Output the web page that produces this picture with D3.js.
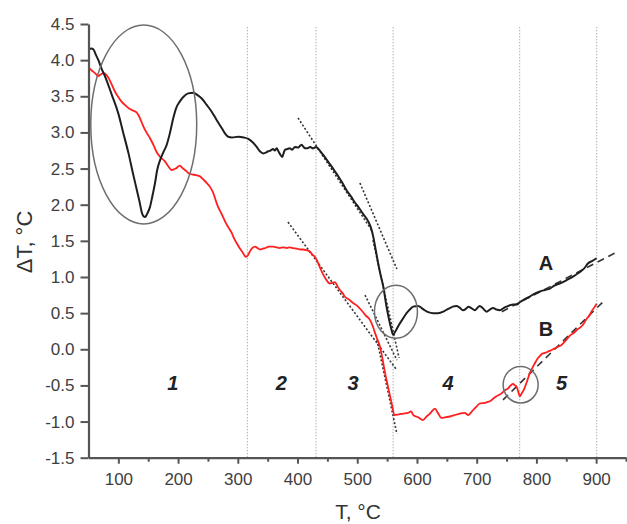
<!DOCTYPE html>
<html>
<head>
<meta charset="utf-8">
<script src="https://cdn.jsdelivr.net/npm/d3@7"></script>
<style>
  html, body { margin: 0; padding: 0; background: #fff; }
  svg { display: block; }
</style>
</head>
<body>
<svg id="chart" width="627" height="524"></svg>
<script>
// ---- data ----
const curveA_T = [50,55,58,62,66.5,72,78,89,100,108,117,124,131,136,139,142,144.7,148,153,157,161.4,165,170,175,181,186,192,197,203,210,217,225.5,232,239.6,248,256,264,273,279,284,290,301,310,317.6,324,331.6,337,342.7,347,351,355,359,362,365,368,370.6,374.5,377,379,383,387,391,395.7,401,405,407,410,412.5,417,421,426,431,435,442,449,456,462.7,470,476,482,490,496,501.7,510,518.4,523,527,531,535,539,543.5,549,553,557,560,564,571.5,577,582.6,588,593.7,602,608,613,620,627,635,644,650,655,660,666,671,677,682,686,691,697,701,705,710,716.6,722,727.6,733,739,745,750,755.6,761,767,772,780,789,797,806,814,822.5,830,839,847,856,864,873,880,886.6,893,900.7];
const curveA_dT = [4.15,4.16,4.15,4.08,4.0,3.88,3.77,3.52,3.26,3.0,2.71,2.45,2.2,2.02,1.9,1.84,1.83,1.87,1.97,2.12,2.30,2.48,2.62,2.72,2.83,2.98,3.20,3.34,3.43,3.50,3.54,3.55,3.52,3.47,3.38,3.29,3.18,3.06,2.98,2.94,2.93,2.94,2.93,2.91,2.87,2.80,2.74,2.71,2.72,2.74,2.75,2.77,2.75,2.78,2.74,2.70,2.66,2.72,2.76,2.77,2.78,2.76,2.80,2.79,2.82,2.83,2.80,2.78,2.78,2.80,2.78,2.80,2.77,2.70,2.62,2.54,2.46,2.37,2.29,2.20,2.11,2.03,1.97,1.87,1.77,1.68,1.55,1.37,1.19,1.03,0.87,0.59,0.42,0.28,0.20,0.25,0.36,0.43,0.50,0.55,0.59,0.60,0.57,0.54,0.51,0.50,0.50,0.52,0.55,0.57,0.59,0.60,0.58,0.54,0.56,0.59,0.57,0.54,0.57,0.60,0.57,0.52,0.55,0.57,0.55,0.54,0.57,0.59,0.61,0.62,0.62,0.65,0.69,0.73,0.77,0.80,0.82,0.84,0.88,0.91,0.94,0.98,1.02,1.07,1.12,1.19,1.22,1.26];

const curveB_T = [50,55,61,66.5,70,75,80.6,85,89,94,100,105,111,118,125,130,133.5,138,142,147,153,158,164,170,178,183,189,196,203,207,211.6,217,223,230,237,242,248,254,259,263,267,273,278.6,284,289.8,294,298,303,309,313,316,320,324,329,333,337,341,345.5,352,359,365,370,376,382,387,393,400,405,409.6,415,420.8,426,429,433,437.6,442,446,450,454,458,462.7,467,471,476,479,486,493,500,507,514,521,526,530,534,538,542,546.6,551,555,559,562,570,577,585,590,594,602,610,616,621.7,626,630,635,641,648,655,663,672,680,686,690,694,700,705,713,722,728,733,738,741.6,747,752.7,757,761,764,767,770,772,776,780,784,789,793,797,801,806,810,814.6,820,828,835,842,850,856,861.5,868,873,878,884,889,892,897.8,900.7];
const curveB_dT = [3.90,3.86,3.82,3.78,3.80,3.82,3.79,3.73,3.66,3.57,3.49,3.43,3.38,3.33,3.30,3.28,3.24,3.16,3.08,3.00,2.92,2.84,2.73,2.66,2.60,2.54,2.48,2.50,2.54,2.51,2.48,2.44,2.42,2.41,2.39,2.35,2.30,2.24,2.16,2.06,1.97,1.87,1.77,1.69,1.61,1.53,1.47,1.40,1.33,1.28,1.29,1.35,1.40,1.42,1.40,1.38,1.39,1.40,1.42,1.42,1.41,1.40,1.41,1.40,1.41,1.40,1.39,1.38,1.38,1.37,1.35,1.30,1.28,1.22,1.13,1.05,0.99,0.94,0.91,0.92,0.93,0.87,0.82,0.77,0.73,0.69,0.64,0.60,0.54,0.47,0.41,0.32,0.22,0.13,0.04,-0.12,-0.33,-0.50,-0.65,-0.80,-0.91,-0.90,-0.89,-0.88,-0.86,-0.91,-0.94,-0.98,-0.93,-0.89,-0.85,-0.82,-0.88,-0.95,-0.94,-0.93,-0.91,-0.89,-0.88,-0.91,-0.88,-0.84,-0.79,-0.75,-0.74,-0.72,-0.68,-0.65,-0.63,-0.61,-0.57,-0.54,-0.50,-0.48,-0.50,-0.52,-0.60,-0.65,-0.60,-0.54,-0.45,-0.33,-0.26,-0.20,-0.14,-0.09,-0.06,-0.05,-0.03,0.00,0.03,0.06,0.13,0.19,0.22,0.27,0.30,0.34,0.42,0.47,0.52,0.59,0.63];

// tick labels / axis values
const xTicks = [100,200,300,400,500,600,700,800,900];
const xMinorTicks = [150,250,350,450,550,650,750,850,950];
const yTicks = [-1.5,-1.0,-0.5,0.0,0.5,1.0,1.5,2.0,2.5,3.0,3.5,4.0,4.5];

// stage boundaries (vertical dotted lines) and stage labels
const stageBounds = [316,431,560,772,901];
const stageLabels = ["1","2","3","4","5"];
const stageLabelT = [191,373,493,652,842];
const stageLabelY = -0.46;

// curve labels
const curveLabels = ["A","B"];
const curveLabelT = [816,816];
const curveLabelY = [1.19,0.28];

// tangent construction lines [T1, dT1, T2, dT2]
const tangentsShort = [
  [400.8,3.20,524.6,1.64],
  [504.5,2.30,566.4,1.11],
  [526.3,1.51,570.0,-0.12],
  [384.0,1.76,564.7,-0.27],
  [513.0,0.75,566.4,-0.15],
  [533.0,0.13,566.4,-1.17]
];
const tangentsLong = [
  [742,0.52,931,1.33],
  [744,-0.70,914.5,0.68]
];

// highlight ellipses [T centre, dT centre, T radius, dT radius]
const ellipses = [
  [142.5,3.11,88.7,1.376],
  [564.8,0.52,36,0.367],
  [773.6,-0.49,29.3,0.253]
];

// ---- drawing ----
const svg = d3.select("#chart");
const x = d3.scaleLinear().domain([50,950]).range([88.5,626]);
const y = d3.scaleLinear().domain([-1.5,4.5]).range([457.7,24]);
const FONT = "Arial, 'Liberation Sans', sans-serif";

// vertical dotted stage lines
svg.append("g").selectAll("line").data(stageBounds).join("line")
  .attr("x1", d => x(d)).attr("x2", d => x(d))
  .attr("y1", y(4.46)).attr("y2", y(-1.5))
  .attr("stroke", "#b0b0b0").attr("stroke-width", 1)
  .attr("stroke-dasharray", "1.5,1.5");

// tangents
const tg = svg.append("g");
tg.selectAll("line.s").data(tangentsShort).join("line").attr("class","s")
  .attr("x1", d => x(d[0])).attr("y1", d => y(d[1]))
  .attr("x2", d => x(d[2])).attr("y2", d => y(d[3]))
  .attr("stroke", "#333").attr("stroke-width", 1.6)
  .attr("stroke-dasharray", "2,2");
tg.selectAll("line.l").data(tangentsLong).join("line").attr("class","l")
  .attr("x1", d => x(d[0])).attr("y1", d => y(d[1]))
  .attr("x2", d => x(d[2])).attr("y2", d => y(d[3]))
  .attr("stroke", "#333").attr("stroke-width", 1.6)
  .attr("stroke-dasharray", "7,5");

// curves
const line = d3.line().x(d => x(d[0])).y(d => y(d[1])).curve(d3.curveMonotoneX);
const dataA = curveA_T.map((t,i) => [t, curveA_dT[i]]);
const dataB = curveB_T.map((t,i) => [t, curveB_dT[i]]);
svg.append("path").datum(dataB).attr("d", line)
  .attr("fill","none").attr("stroke","#ff1f1f").attr("stroke-width",1.8).attr("stroke-linejoin","round");
svg.append("path").datum(dataA).attr("d", line)
  .attr("fill","none").attr("stroke","#1e1e1e").attr("stroke-width",2).attr("stroke-linejoin","round");

// ellipses
svg.append("g").selectAll("ellipse").data(ellipses).join("ellipse")
  .attr("cx", d => x(d[0])).attr("cy", d => y(d[1]))
  .attr("rx", d => x(d[0]+d[2]) - x(d[0]))
  .attr("ry", d => y(d[1]-d[3]) - y(d[1]))
  .attr("fill","none").attr("stroke","#6e6e6e").attr("stroke-width",1.5);

// axes
const xAxis = svg.append("g").attr("transform", `translate(0,${y(-1.5)})`)
  .call(d3.axisBottom(x).tickValues(xTicks).tickSize(6).tickPadding(9).tickSizeOuter(0).tickFormat(d3.format("d")));
const xMinor = svg.append("g").attr("transform", `translate(0,${y(-1.5)})`)
  .call(d3.axisBottom(x).tickValues(xMinorTicks).tickSize(4).tickFormat("").tickSizeOuter(0));
xMinor.select(".domain").remove();
const yAxis = svg.append("g").attr("transform", `translate(${x(50)},0)`)
  .call(d3.axisLeft(y).tickValues(yTicks).tickSize(8).tickPadding(6).tickSizeOuter(0).tickFormat(d => d.toFixed(1)));

[xAxis, xMinor, yAxis].forEach(g => {
  g.selectAll(".domain").attr("stroke","#555").attr("stroke-width",2.2);
  g.selectAll(".tick line").attr("stroke","#555").attr("stroke-width",2);
  g.selectAll(".tick text").attr("fill","#404040").style("font-family",FONT).style("font-size","17px");
});

// axis titles
svg.append("text").attr("x", 358).attr("y", 519).attr("text-anchor","middle")
  .style("font-family",FONT).style("font-size","21px").attr("fill","#333").text("T, °C");
svg.append("text").attr("transform","translate(32,242) rotate(-90)").attr("text-anchor","middle")
  .style("font-family",FONT).style("font-size","22px").attr("fill","#333").text("ΔT, °C");

// stage labels
svg.append("g").selectAll("text").data(stageLabels).join("text")
  .attr("x", (d,i) => x(stageLabelT[i])).attr("y", y(stageLabelY))
  .attr("text-anchor","middle").attr("dominant-baseline","central")
  .style("font-family",FONT).style("font-size","20px").style("font-weight","bold").style("font-style","italic")
  .attr("fill","#222").text(d => d);

// curve labels
svg.append("g").selectAll("text").data(curveLabels).join("text")
  .attr("x", (d,i) => x(curveLabelT[i])).attr("y", (d,i) => y(curveLabelY[i]))
  .attr("text-anchor","middle").attr("dominant-baseline","central")
  .style("font-family",FONT).style("font-size","20px").style("font-weight","bold")
  .attr("fill","#222").text(d => d);
</script>
</body>
</html>
